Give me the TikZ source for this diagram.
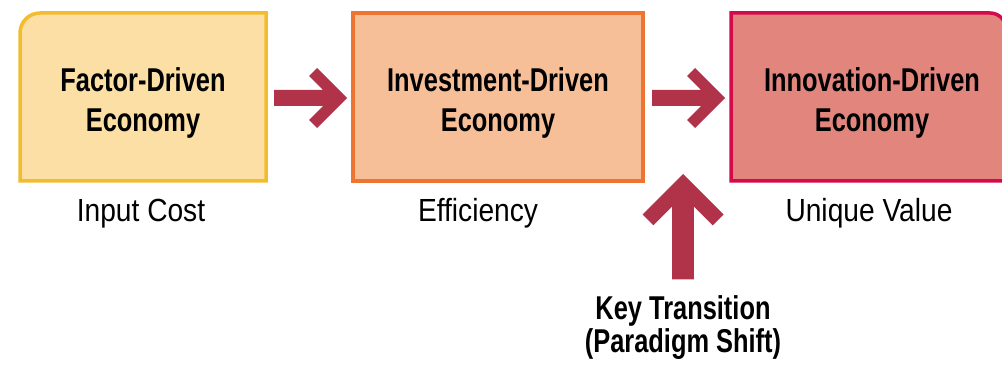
\documentclass[tikz,border=0pt]{standalone}
\usepackage{fontspec}
\setmainfont{Liberation Sans}
\newfontfamily\condbold[FakeStretch=0.77]{Liberation Sans Bold}
\newfontfamily\condreg[FakeStretch=0.88]{Liberation Sans}
\definecolor{yelfill}{HTML}{FBDFA4}
\definecolor{yeldraw}{HTML}{F2BC2E}
\definecolor{orafill}{HTML}{F7BF98}
\definecolor{oradraw}{HTML}{EE7431}
\definecolor{redfill}{HTML}{E2857C}
\definecolor{reddraw}{HTML}{D50A4B}
\definecolor{arrowred}{HTML}{B0334A}
\tikzset{
  stagebox/.style={line width=3.5pt, line join=miter},
  stagetext/.style={font=\condbold\fontsize{33}{40}\selectfont, align=center, anchor=base, inner sep=0pt},
  captext/.style={font=\condreg\fontsize{32}{38}\selectfont, anchor=base, inner sep=0pt},
  keytext/.style={font=\condbold\fontsize{33}{33}\selectfont, align=center, anchor=base, inner sep=0pt},
  pics/fatarrow/.style={code={
    \fill[arrowred] (-#1,8) -- (-24,8) -- (-38,22) -- (-30,30) -- (0,0)
      -- (-30,-30) -- (-38,-22) -- (-24,-8) -- (-#1,-8) -- cycle;}}
}
\begin{document}
\begin{tikzpicture}[x=1pt,y=1pt]
\clip (0,0) rectangle (1002,367);
\fill[white] (0,0) rectangle (1002,367);
% boxes
\draw[stagebox, draw=yeldraw, fill=yelfill]
  (266,186) -- (20,186) -- (20,334) arc[start angle=180,end angle=90,radius=20] -- (266,354) -- cycle;
\node[stagebox, draw=oradraw, fill=orafill, rectangle, minimum width=290pt, minimum height=168pt, inner sep=0pt]
  (b2) at (498,270) {};
\draw[stagebox, draw=reddraw, fill=redfill]
  (731,186) -- (731,354) -- (990,354) arc[start angle=90,end angle=0,radius=16] -- (1006,186) -- cycle;
% box texts (base anchor = baseline of last line)
\node[stagetext] (t1) at (143,235) {Factor-Driven\\Economy};
\node[stagetext] (t2) at (498,235) {Investment-Driven\\Economy};
\node[stagetext] (t3) at (872,235) {Innovation-Driven\\Economy};
% captions
\node[captext] (c1) at (141,145) {Input Cost};
\node[captext] (c2) at (478,145) {Efficiency};
\node[captext] (c3) at (869,145) {Unique Value};
% arrows
\coordinate (a1) at (347,269);
\coordinate (a2) at (725,269);
\coordinate (a3) at (683,193);
\pic at (a1) {fatarrow=73};
\pic at (a2) {fatarrow=73};
\pic[scale=1.35, rotate=90] at (a3) {fatarrow=78};
% key transition
\node[keytext] (k) at (683,14) {Key Transition\\(Paradigm Shift)};
\end{tikzpicture}
\end{document}
